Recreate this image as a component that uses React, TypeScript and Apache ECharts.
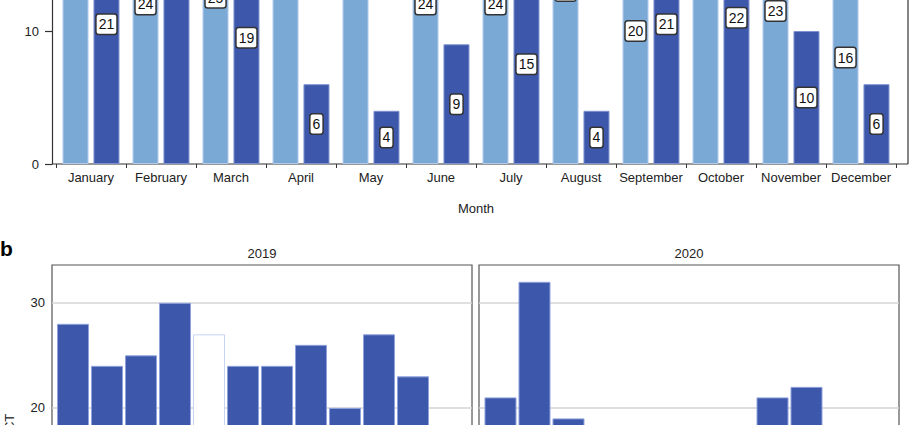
import React, { useEffect, useRef } from 'react';
import * as echarts from 'echarts';

const months = ['January', 'February', 'March', 'April', 'May', 'June', 'July', 'August', 'September', 'October', 'November', 'December'];
const values2019 = [28, 24, 25, 30, 27, 24, 24, 26, 20, 27, 23, 16];
const values2020 = [21, 32, 19, 6, 4, 9, 15, 4, 21, 22, 10, 6];
const highlighted2019 = 4; // May 2019 drawn as an outlined (white) bar in panel b
const panelTitles = ['2019', '2020'];
const yNameB = 'No. of CT';

const FONT = '"Liberation Sans", Arial, Helvetica, sans-serif';
const LIGHT = '#7aa9d6';
const DARK = '#3d57ab';

export default function App() {
  const ref = useRef<HTMLDivElement>(null);
  useEffect(() => {
    document.body.style.margin = '0';
    const chart = echarts.init(ref.current!, null, { renderer: 'svg' });
    const label = {
      show: true,
      position: 'inside',
      color: '#111',
      fontSize: 14,
      fontFamily: FONT,
      backgroundColor: '#fff',
      borderColor: '#333',
      borderWidth: 1.5,
      borderRadius: 2,
      padding: [3, 2, 2, 2],
    };
    const axisText = { fontSize: 13, color: '#222', fontFamily: FONT };
    const bData = (vals: number[], hi: number) =>
      vals.map((v, i) =>
        i === hi
          ? { value: [i, v], itemStyle: { color: '#fff', borderColor: '#c6d3f2', borderWidth: 1 } }
          : { value: [i, v] }
      );
    const option: any = {
      animation: false,
      textStyle: { fontFamily: FONT },
      grid: [
        { left: 56, width: 840, top: -301.5, height: 465.5, outerBoundsMode: 'none', containLabel: false },
        { left: 52, width: 420, top: 265, height: 353, show: true, borderColor: '#555', borderWidth: 1.2, outerBoundsMode: 'none', containLabel: false },
        { left: 479, width: 420, top: 265, height: 353, show: true, borderColor: '#555', borderWidth: 1.2, outerBoundsMode: 'none', containLabel: false },
      ],
      xAxis: [
        {
          gridIndex: 0,
          type: 'category',
          data: months,
          axisLine: { show: false },
          axisTick: { show: true, length: 4, interval: 0, lineStyle: { color: '#333' } },
          axisLabel: { ...axisText, margin: 7, interval: 0 },
          name: 'Month',
          nameLocation: 'middle',
          nameGap: 38,
          nameTextStyle: { ...axisText },
        },
        { gridIndex: 1, type: 'value', min: -0.6176, max: 11.735, show: false },
        { gridIndex: 2, type: 'value', min: -0.632, max: 11.72, show: false },
      ],
      yAxis: [
        {
          gridIndex: 0,
          type: 'value',
          min: 0,
          max: 35,
          interval: 10,
          offset: 4,
          axisLine: { show: true, lineStyle: { color: '#333', width: 1.2 } },
          axisTick: { show: true, length: 7, lineStyle: { color: '#333', width: 1.2 } },
          axisLabel: { ...axisText, margin: 13, showMaxLabel: false },
          splitLine: { show: false },
        },
        {
          gridIndex: 1,
          type: 'value',
          min: 0,
          max: 33.6,
          interval: 10,
          axisLine: { show: false },
          axisTick: { show: false },
          axisLabel: { ...axisText, margin: 7, showMaxLabel: false },
          splitLine: { show: true, showMaxLine: false, lineStyle: { color: '#d4d4d4', width: 1.5 } },
          name: yNameB,
          nameLocation: 'middle',
          nameGap: 36,
          nameTextStyle: { ...axisText },
        },
        {
          gridIndex: 2,
          type: 'value',
          min: 0,
          max: 33.6,
          interval: 10,
          axisLine: { show: false },
          axisTick: { show: false },
          axisLabel: { show: false },
          splitLine: { show: true, showMaxLine: false, lineStyle: { color: '#d4d4d4', width: 1.5 } },
        },
      ],
      series: [
        {
          type: 'bar',
          xAxisIndex: 0,
          yAxisIndex: 0,
          data: values2019,
          barWidth: 26,
          barGap: '19%',
          itemStyle: { color: LIGHT, borderColor: '#b3cbea', borderWidth: 1 },
          label,
        },
        {
          type: 'bar',
          xAxisIndex: 0,
          yAxisIndex: 0,
          data: values2020,
          barWidth: 26,
          barGap: '19%',
          itemStyle: { color: DARK, borderColor: '#7d92d0', borderWidth: 1 },
          label,
        },
        {
          type: 'bar',
          xAxisIndex: 1,
          yAxisIndex: 1,
          data: bData(values2019, highlighted2019),
          barWidth: 32,
          itemStyle: { color: DARK, borderColor: '#8fa2dc', borderWidth: 1 },
        },
        {
          type: 'bar',
          xAxisIndex: 2,
          yAxisIndex: 2,
          data: bData(values2020, -1),
          barWidth: 32,
          itemStyle: { color: DARK, borderColor: '#8fa2dc', borderWidth: 1 },
        },
      ],
      graphic: [
        { type: 'line', shape: { x1: 52, y1: 164, x2: 908, y2: 164 }, style: { stroke: '#333', lineWidth: 1.2 } },
        { type: 'line', shape: { x1: 908, y1: -5, x2: 908, y2: 164 }, style: { stroke: '#333', lineWidth: 1.2 } },
        { type: 'text', x: 0, y: 248, style: { text: 'b', font: `bold 21px ${FONT}`, fill: '#000', textVerticalAlign: 'middle' } },
        { type: 'text', x: 262, y: 253, style: { text: panelTitles[0], font: `13px ${FONT}`, fill: '#222', textAlign: 'center', textVerticalAlign: 'middle' } },
        { type: 'text', x: 689, y: 253, style: { text: panelTitles[1], font: `13px ${FONT}`, fill: '#222', textAlign: 'center', textVerticalAlign: 'middle' } },
      ],
    };
    chart.setOption(option);
    return () => chart.dispose();
  }, []);
  return <div ref={ref} style={{ width: 920, height: 425 }} />;
}
